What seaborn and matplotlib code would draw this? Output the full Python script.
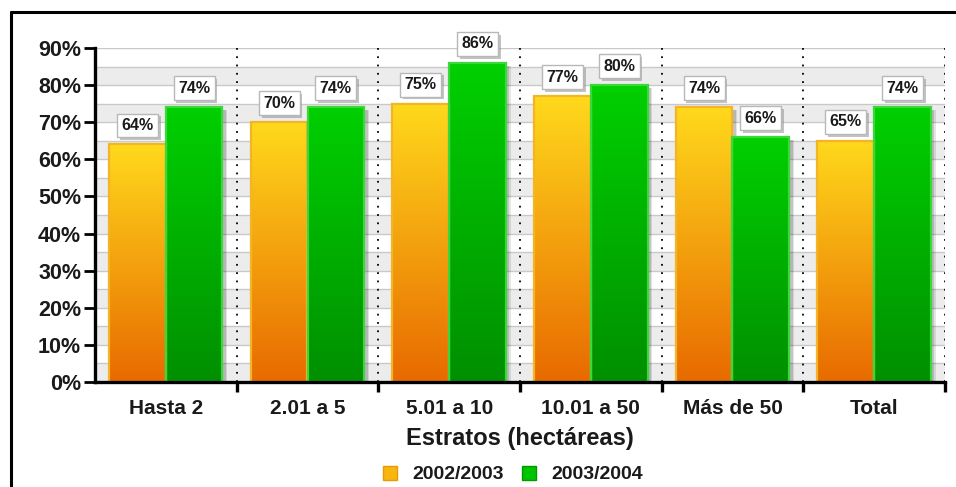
import numpy as np
import pandas as pd
import matplotlib
matplotlib.use("Agg")
import matplotlib.pyplot as plt
import seaborn as sns
from matplotlib.colors import LinearSegmentedColormap
from matplotlib.patches import Rectangle
from matplotlib.lines import Line2D
from matplotlib import patheffects as pe

# Data
estratos = ["Hasta 2", "2.01 a 5", "5.01 a 10", "10.01 a 50", "Más de 50", "Total"]
periodos = ["2002/2003", "2003/2004"]
valores_2002_2003 = [64, 70, 75, 77, 74, 65]
valores_2003_2004 = [74, 74, 86, 80, 66, 74]
yticks = [0, 10, 20, 30, 40, 50, 60, 70, 80, 90]

df = pd.DataFrame({
    "estrato": estratos * 2,
    "valor": valores_2002_2003 + valores_2003_2004,
    "periodo": [periodos[0]] * len(estratos) + [periodos[1]] * len(estratos),
})

sns.set_theme(style="white")
plt.rcParams["font.family"] = ["Liberation Sans", "DejaVu Sans"]
plt.rcParams["font.weight"] = "bold"
TXT = "#1a1a1a"

fig = plt.figure(figsize=(9.56, 4.87), dpi=100)
ax = fig.add_axes([95 / 956, 105 / 487, 850 / 956, 334 / 487])

# gradient ends (bottom, top) and edge colours per series
grad_cols = {
    periodos[0]: ("#e86a00", "#ffd91c"),
    periodos[1]: ("#008f00", "#00d000"),
}
edge_cols = {periodos[0]: "#f3b526", periodos[1]: "#3ad83a"}
base_cols = {periodos[0]: "#f3a010", periodos[1]: "#00b000"}
legend_cols = {periodos[0]: ("#f6b712", "#e89a00"), periodos[1]: ("#00c400", "#009a00")}

sns.barplot(data=df, x="estrato", y="valor", hue="periodo", order=estratos,
            hue_order=periodos, palette=base_cols, width=0.8, saturation=1,
            legend=False, ax=ax, zorder=3)

ax.set_xlim(-0.5, len(estratos) - 0.5)
ax.set_ylim(0, 90)

# alternating background bands and grid lines every 5%
for lo in range(0, 90, 10):
    ax.axhspan(lo, lo + 5, color="#ececec", zorder=0, lw=0)
for y in range(5, 91, 5):
    ax.axhline(y, color="#c9c9c9", lw=1, zorder=1)
for xb in np.arange(0.5, len(estratos), 1.0):
    ax.axvline(xb, color="black", lw=1.3, ls=(0, (1, 3.6)), zorder=1)

# gradient fill, shadow and value labels for each bar
for per, cont in zip(periodos, ax.containers):
    bot, top = grad_cols[per]
    cmap = LinearSegmentedColormap.from_list(per, [bot, top])
    for rect in cont:
        x0, y0 = rect.get_x(), rect.get_y()
        w, h = rect.get_width(), rect.get_height()
        for k, a in ((0.035, 0.10), (0.024, 0.14)):
            ax.add_patch(Rectangle((x0 + k, y0), w, h - 0.8, color="black",
                                   alpha=a, lw=0, zorder=2))
        img = ax.imshow(np.linspace(0, 1, 256).reshape(-1, 1), cmap=cmap,
                        extent=[x0, x0 + w, y0, y0 + h], origin="lower",
                        aspect="auto", zorder=3, interpolation="bilinear")
        img.set_clip_path(rect)
        rect.set_facecolor("none")
        rect.set_edgecolor(edge_cols[per])
        rect.set_linewidth(1.6)
        rect.set_zorder(4)
        t = ax.annotate(f"{h:.0f}%", (x0 + w / 2, y0 + h), xytext=(0, 19),
                        textcoords="offset pixels", ha="center", va="center",
                        fontsize=11.5, fontweight="bold", color=TXT, zorder=6,
                        bbox=dict(boxstyle="square,pad=0.28", fc="white",
                                  ec="#b8b8b8", lw=1))
        t.get_bbox_patch().set_path_effects(
            [pe.withSimplePatchShadow(offset=(2, -2), shadow_rgbFace="#888888",
                                      alpha=0.5)])

ax.set_xlim(-0.5, len(estratos) - 0.5)
ax.set_ylim(0, 90)

# axes styling
for s in ("top", "right"):
    ax.spines[s].set_visible(False)
for s in ("left", "bottom"):
    ax.spines[s].set_linewidth(2.4)
    ax.spines[s].set_color("black")
    ax.spines[s].set_zorder(7)

ax.set_yticks(yticks)
ax.set_yticklabels([f"{v}%" for v in yticks], fontsize=15.5, fontweight="bold",
                   color=TXT)
ax.tick_params(axis="y", direction="out", length=8, width=2, color="black",
               left=True, pad=2)
ax.set_xticks(range(len(estratos)))
ax.set_xticklabels(estratos, fontsize=15, fontweight="bold", color=TXT)
ax.set_xticks(np.arange(0.5, len(estratos), 1.0), minor=True)
ax.tick_params(axis="x", which="major", length=0, pad=12)
ax.tick_params(axis="x", which="minor", direction="out", length=7, width=2.4,
               color="black", bottom=True)
ax.set_xlabel("Estratos (hectáreas)", fontsize=17, fontweight="bold",
              color=TXT, labelpad=7)
ax.set_ylabel("")

# legend
handles = [Line2D([], [], ls="none", marker="s", markersize=10,
                  markerfacecolor=legend_cols[p][0],
                  markeredgecolor=legend_cols[p][1],
                  markeredgewidth=1) for p in periodos]
fig.legend(handles, periodos, loc="center", bbox_to_anchor=(513 / 956, 12.5 / 487),
           ncol=2, frameon=False, handlelength=0.8, handletextpad=0.75,
           columnspacing=0.9, prop=dict(size=14, weight="bold"), labelcolor=TXT)

# outer frame (top and left edges)
fig.add_artist(Line2D([11 / 956, 1], [1 - 12 / 487, 1 - 12 / 487],
                      color="black", lw=2.2, transform=fig.transFigure))
fig.add_artist(Line2D([11 / 956, 11 / 956], [0, 1 - 12 / 487],
                      color="black", lw=2.2, transform=fig.transFigure))

fig.savefig("out.png", dpi=100)
